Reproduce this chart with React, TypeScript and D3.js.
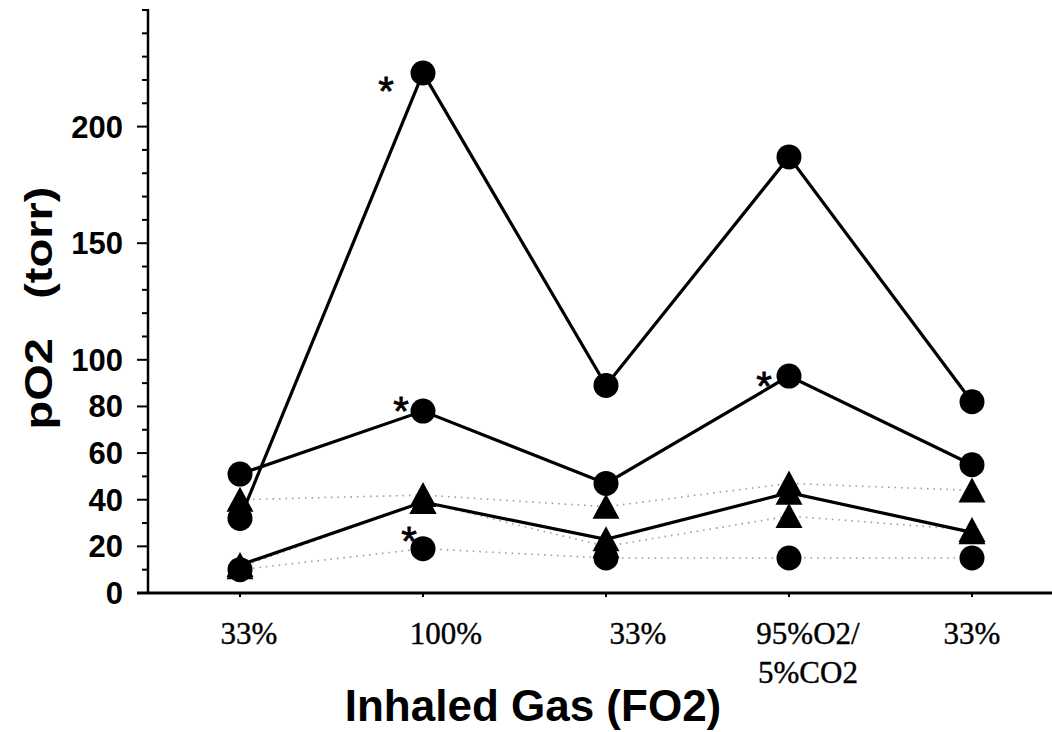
import React from "react";
import * as d3 from "d3";

// ---- data ----
const categories: string[][] = [["33%"], ["100%"], ["33%"], ["95%O2/", "5%CO2"], ["33%"]];

const seriesA = [32, 223, 89, 187, 82]; // solid, circles
const seriesB = [51, 78, 47, 93, 55]; // solid, circles
const seriesC = [12, 39, 23, 43, 26]; // solid, triangles
const seriesD = [40, 42, 37, 47, 44]; // dotted, triangles
const seriesE = [11, 39, 20, 33, 27]; // dotted, triangles
const seriesF = [10, 19, 15, 15, 15]; // dotted, circles

const yLabelTicks = [0, 20, 40, 60, 80, 100, 150, 200];

const xTitle = "Inhaled Gas (FO2)";
const yTitle = "pO2   (torr)";

// significance marks: [series index, point index]
const starPoints: [number, number][] = [[0, 1], [1, 1], [1, 3], [5, 1]];

type Series = { values: number[]; solid: boolean; marker: "circle" | "triangle" };
const allSeries: Series[] = [
  { values: seriesA, solid: true, marker: "circle" },
  { values: seriesB, solid: true, marker: "circle" },
  { values: seriesC, solid: true, marker: "triangle" },
  { values: seriesD, solid: false, marker: "triangle" },
  { values: seriesE, solid: false, marker: "triangle" },
  { values: seriesF, solid: false, marker: "circle" },
];

// ---- layout ----
const W = 1052;
const H = 732;
const labelShift = [9, 23, 32, 19, 0];
const starOffsets: [number, number][] = [[-37, 9], [-22, -9], [-25, 1], [-14, -16]];

export default function App() {
  const x = d3
    .scalePoint<number>()
    .domain(d3.range(categories.length))
    .range([240, 972]);
  const y = d3.scaleLinear().domain([0, 250]).range([593, 10]);
  const axisX = 148;

  const line = d3
    .line<number>()
    .x((_, i) => x(i) as number)
    .y((d) => y(d));

  const minorTicks = d3.range(0, 251, 10).filter((v) => !yLabelTicks.includes(v));

  const tri = (cx: number, cy: number) =>
    `M${cx},${cy - 13}L${cx + 13.5},${cy + 12}L${cx - 13.5},${cy + 12}Z`;

  const sans = "'Liberation Sans', Arial, Helvetica, sans-serif";
  const serif = "'Liberation Serif', 'Times New Roman', serif";

  return (
    <svg
      width={W}
      height={H}
      viewBox={`0 0 ${W} ${H}`}
      style={{ position: "absolute", left: 0, top: 0, display: "block", background: "#fff" }}
    >
      <rect x={0} y={0} width={W} height={H} fill="#fff" />

      {/* y axis */}
      <line x1={axisX} x2={axisX} y1={y(250)} y2={y(0)} stroke="#000" strokeWidth={2.5} />
      {minorTicks.map((v) => (
        <line key={"m" + v} x1={axisX - 6} x2={axisX + 1} y1={y(v)} y2={y(v)} stroke="#000" strokeWidth={2} />
      ))}
      {yLabelTicks.map((v) => (
        <g key={"t" + v}>
          <line x1={axisX - 11} x2={axisX + 1} y1={y(v)} y2={y(v)} stroke="#000" strokeWidth={2} />
          <text
            x={123}
            y={y(v) + 11}
            textAnchor="end"
            fontFamily={sans}
            fontWeight="bold"
            fontSize={31}
            fill="#000"
          >
            {v}
          </text>
        </g>
      ))}

      {/* x axis */}
      <line x1={axisX - 11} x2={W} y1={y(0)} y2={y(0)} stroke="#000" strokeWidth={3} />
      {categories.map((c, i) => (
        <g key={"x" + i}>
          <line x1={x(i)} x2={x(i)} y1={y(0)} y2={y(0) + 4} stroke="#000" strokeWidth={2} />
          {c.map((ln, j) => (
            <text
              key={j}
              x={(x(i) as number) + labelShift[i]}
              y={644 + j * 39}
              textAnchor="middle"
              fontFamily={serif}
              fontSize={31}
              fill="#000"
              stroke="#000"
              strokeWidth={0.4}
            >
              {ln}
            </text>
          ))}
        </g>
      ))}

      {/* titles */}
      <text x={533} y={721} textAnchor="middle" fontFamily={sans} fontWeight="bold" fontSize={44} fill="#000">
        {xTitle}
      </text>
      <text
        transform={`translate(52,308) rotate(-90)`}
        textAnchor="middle"
        fontFamily={sans}
        fontWeight="bold"
        fontSize={38}
        textLength={243}
        lengthAdjust="spacingAndGlyphs"
        fill="#000"
        style={{ whiteSpace: "pre" }}
      >
        {yTitle}
      </text>

      {/* dotted series lines */}
      {allSeries
        .filter((s) => !s.solid)
        .map((s, k) => (
          <path
            key={"d" + k}
            d={line(s.values) || ""}
            fill="none"
            stroke="#9a9a9a"
            strokeWidth={1.6}
            strokeDasharray="1.5 5"
          />
        ))}
      {/* solid series lines */}
      {allSeries
        .filter((s) => s.solid)
        .map((s, k) => (
          <path key={"s" + k} d={line(s.values) || ""} fill="none" stroke="#000" strokeWidth={3.2} />
        ))}

      {/* markers */}
      {allSeries.map((s, k) =>
        s.values.map((v, i) => {
          const cx = x(i) as number;
          const cy = y(v);
          return s.marker === "circle" ? (
            <circle key={`c${k}-${i}`} cx={cx} cy={cy} r={12.5} fill="#000" />
          ) : (
            <path key={`t${k}-${i}`} d={tri(cx, cy)} fill="#000" />
          );
        })
      )}

      {/* asterisks */}
      {starPoints.map(([s, i], k) => {
        const cx = (x(i) as number) + starOffsets[k][0];
        const cy = y(allSeries[s].values[i]) + starOffsets[k][1];
        const fs = 40;
        return (
          <text
            key={"a" + k}
            x={cx}
            y={cy + 0.57 * fs}
            textAnchor="middle"
            fontFamily={sans}
            fontSize={fs}
            fill="#000"
            stroke="#000"
            strokeWidth={0.8}
          >
            *
          </text>
        );
      })}
    </svg>
  );
}
